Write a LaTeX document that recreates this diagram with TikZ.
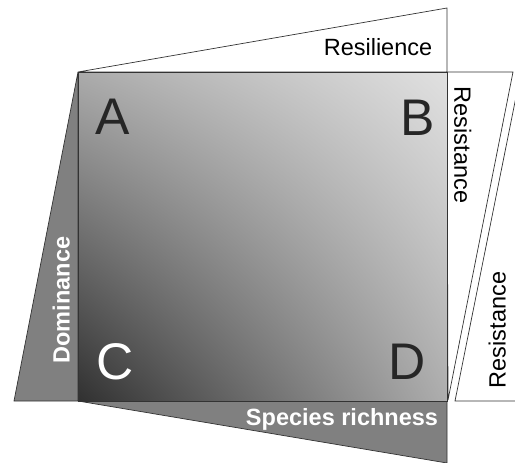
\documentclass[tikz,border=0pt]{standalone}
\usepackage{fontspec}
\setmainfont{Liberation Sans}
\usetikzlibrary{shadings}
\definecolor{gris}{gray}{0.50}
\definecolor{coinA}{gray}{0.67}
\definecolor{coinB}{gray}{0.88}
\definecolor{coinC}{gray}{0.19}
\definecolor{coinD}{gray}{0.68}
\begin{document}
\begin{tikzpicture}[x=1pt,y=-1pt,
    bord/.style={draw=black!80, line width=0.7pt},
    etiq/.style={font=\fontsize{23.5}{28}\selectfont, inner sep=0pt, text depth=0pt},
    lettre/.style={font=\fontsize{51.5}{60}\selectfont, inner sep=0pt}]
        % Cadre de l'image
        \clip (0,0) rectangle (515,463);

        % Triangle du haut (resilience)
        \filldraw[fill=white, bord] (78,72) -- (447,8) -- (447,72) -- cycle;

        % Les deux bandes de droite (resistance)
        \filldraw[fill=white, bord] (447,72) -- (513,72) -- (448,400) -- cycle;
        \filldraw[fill=white, bord] (455,401) -- (521,72) -- (540,72) -- (540,401) -- cycle;

        % Bande de gauche (dominance) et bande du bas (richesse)
        \filldraw[fill=gris, bord] (78,72) -- (14,401) -- (78,401) -- cycle;
        \filldraw[fill=gris, bord] (78,401) -- (447,401) -- (447,463) -- cycle;

        % Carre central en degrade
        \shade[upper left=coinA, upper right=coinB, lower left=coinC, lower right=coinD]
            (78,72) rectangle (447,401);
        \draw[bord] (78,72) rectangle (447,401);

        % Les quatre coins
        \node[lettre, text=black!85] (A) at (113,117) {A};
        \node[lettre, text=black!85] (B) at (418,118) {B};
        \node[lettre, text=white] (C) at (115,362) {C};
        \node[lettre, text=black!85] (D) at (407,362) {D};

        % Textes des bandes
        \node[etiq] (resilience) at (378,47) {Resilience};
        \node[etiq, rotate=-90] (resistHaut) at (463,145) {Resistance};
        \node[etiq, rotate=90] (resistBas) at (497,330) {Resistance};
        \node[etiq, rotate=90, text=white, font=\fontsize{23.5}{28}\selectfont\bfseries] (dominance) at (61,300) {Dominance};
        \node[etiq, text=white, font=\fontsize{23.5}{28}\selectfont\bfseries] (richesse) at (342,417) {Species richness};
    \end{tikzpicture}
\end{document}
